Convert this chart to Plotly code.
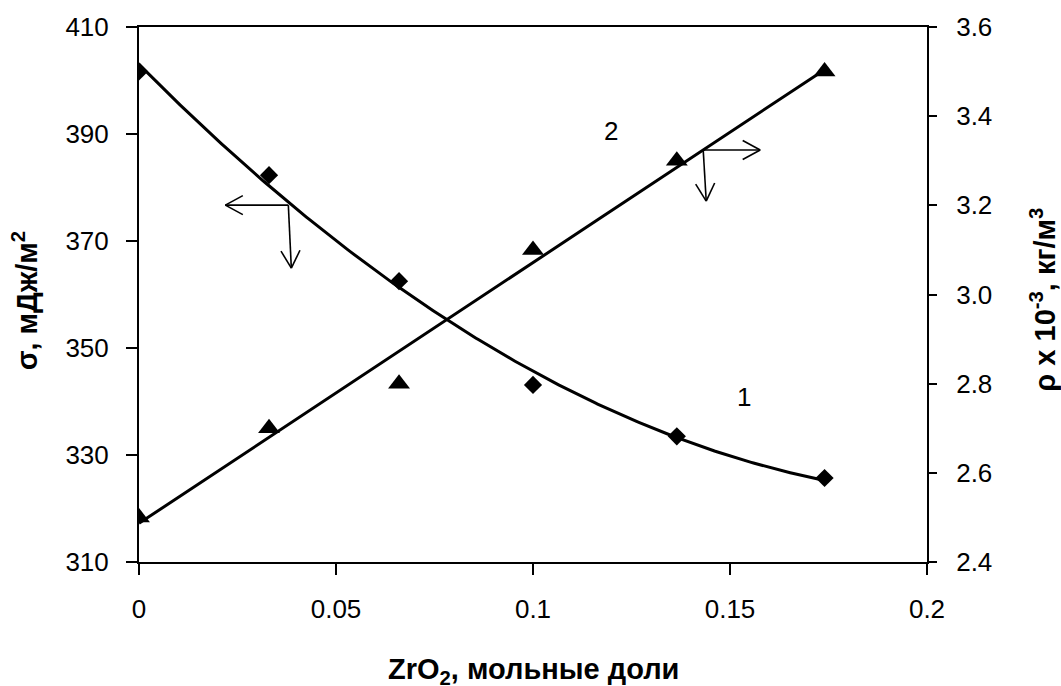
import numpy as np
import plotly.graph_objects as go

# ZrO2 content, mole fraction
zro2 = [0.0, 0.033, 0.066, 0.100, 0.1365, 0.174]
# surface energy sigma, mJ/m^2 (curve 1, left axis)
sigma = [401.7, 382.3, 362.5, 343.1, 333.5, 325.7]
# density rho x 10^-3, kg/m^3 (curve 2, right axis)
rho = [2.50, 2.70, 2.80, 3.10, 3.30, 3.50]

x_tickvals = [0, 0.05, 0.1, 0.15, 0.2]
x_ticktext = ["0", "0.05", "0.1", "0.15", "0.2"]
sigma_tickvals = [310, 330, 350, 370, 390, 410]
rho_tickvals = [2.4, 2.6, 2.8, 3.0, 3.2, 3.4, 3.6]
rho_ticktext = ["2.4", "2.6", "2.8", "3.0", "3.2", "3.4", "3.6"]

FONT = "Liberation Sans, Arial, sans-serif"
TICK_SIZE = 26
TITLE_SIZE = 29

# trendlines: quadratic for sigma, linear for rho
xs = np.linspace(min(zro2), max(zro2), 300)
sigma_trend = np.polyval(np.polyfit(zro2, sigma, 2), xs)
rho_trend = np.polyval(np.polyfit(zro2, rho, 1), xs)

fig = go.Figure()
fig.add_trace(go.Scatter(x=xs, y=sigma_trend, mode="lines",
                         line=dict(color="black", width=3), yaxis="y",
                         hoverinfo="skip"))
fig.add_trace(go.Scatter(x=zro2, y=sigma, mode="markers",
                         marker=dict(symbol="diamond", size=14, color="black"),
                         yaxis="y"))
fig.add_trace(go.Scatter(x=xs, y=rho_trend, mode="lines",
                         line=dict(color="black", width=3), yaxis="y2",
                         hoverinfo="skip"))
fig.add_trace(go.Scatter(x=zro2, y=rho, mode="markers",
                         marker=dict(symbol="triangle-up", size=19, color="black"),
                         yaxis="y2"))


def arrow_shapes(xd, yd, dx, dy, yref="y"):
    """Open-headed arrow drawn from a data anchor, offsets in pixels."""
    shapes = []
    common = dict(type="line", xref="x", yref=yref, xsizemode="pixel",
                  ysizemode="pixel", xanchor=xd, yanchor=yd,
                  line=dict(color="black", width=1.6))
    shapes.append(dict(common, x0=0, y0=0, x1=dx, y1=dy))
    length = (dx ** 2 + dy ** 2) ** 0.5
    ux, uy = dx / length, dy / length
    nx, ny = -uy, ux
    back, half = 17.5, 9.5
    for s in (1, -1):
        ex = dx - back * ux + s * half * nx
        ey = dy - back * uy + s * half * ny
        shapes.append(dict(common, x0=dx, y0=dy, x1=ex, y1=ey))
    return shapes


shapes = []
# pointer of curve 1 towards the left axis
shapes += arrow_shapes(0.0379, 376.7, -63, 0)
shapes += arrow_shapes(0.0379, 376.7, 3, -63)
# pointer of curve 2 towards the right axis
shapes += arrow_shapes(0.1432, 387.0, 57, 0)
shapes += arrow_shapes(0.1432, 387.0, 3, -51)

axis_common = dict(showline=True, linecolor="black", linewidth=2,
                   ticks="outside", tickcolor="black", tickwidth=2,
                   showgrid=False, zeroline=False,
                   tickfont=dict(family=FONT, size=TICK_SIZE, color="black"))

fig.update_layout(
    width=1061, height=686,
    margin=dict(l=139, r=134, t=22, b=124),
    paper_bgcolor="white", plot_bgcolor="white",
    showlegend=False,
    font=dict(family=FONT, color="black"),
    xaxis=dict(axis_common, range=[0, 0.2], tickvals=x_tickvals,
               ticktext=x_ticktext, ticklen=11, ticklabelstandoff=12,
               mirror=True),
    yaxis=dict(axis_common, range=[310, 410], tickvals=sigma_tickvals,
               ticklen=11, ticklabelstandoff=12),
    yaxis2=dict(axis_common, range=[2.4, 3.6], tickvals=rho_tickvals,
                ticktext=rho_ticktext, overlaying="y", side="right",
                anchor="x", ticklen=8, ticklabelstandoff=14),
    yaxis3=dict(range=[2.4, 3.6], tickvals=rho_tickvals, overlaying="y",
                side="right", anchor="x", ticks="inside", ticklen=8,
                tickwidth=2, tickcolor="black", showticklabels=False,
                showline=False, showgrid=False, zeroline=False),
    shapes=shapes,
    annotations=[
        dict(text="<b>ZrO<sub>2</sub>, мольные доли</b>", xref="paper",
             yref="paper", x=0.5, y=-0.204, xanchor="center",
             yanchor="middle", showarrow=False,
             font=dict(family=FONT, size=TITLE_SIZE)),
        dict(text="<b>σ, мДж/м<sup>2</sup></b>", xref="paper", yref="paper",
             x=-0.1447, y=0.489, xanchor="center", yanchor="middle",
             textangle=-90, showarrow=False,
             font=dict(family=FONT, size=TITLE_SIZE)),
        dict(text="<b>ρ x 10<sup>-3</sup>, кг/м<sup>3</sup></b>", xref="paper",
             yref="paper", x=1.147, y=0.49, xanchor="center",
             yanchor="middle", textangle=-90, showarrow=False,
             font=dict(family=FONT, size=TITLE_SIZE)),
        dict(text="1", xref="x", yref="y", x=0.1536, y=340.9,
             showarrow=False, font=dict(family=FONT, size=TICK_SIZE)),
        dict(text="2", xref="x", yref="y", x=0.1197, y=390.5,
             showarrow=False, font=dict(family=FONT, size=TICK_SIZE)),
    ],
)

fig.write_html("out.html")
